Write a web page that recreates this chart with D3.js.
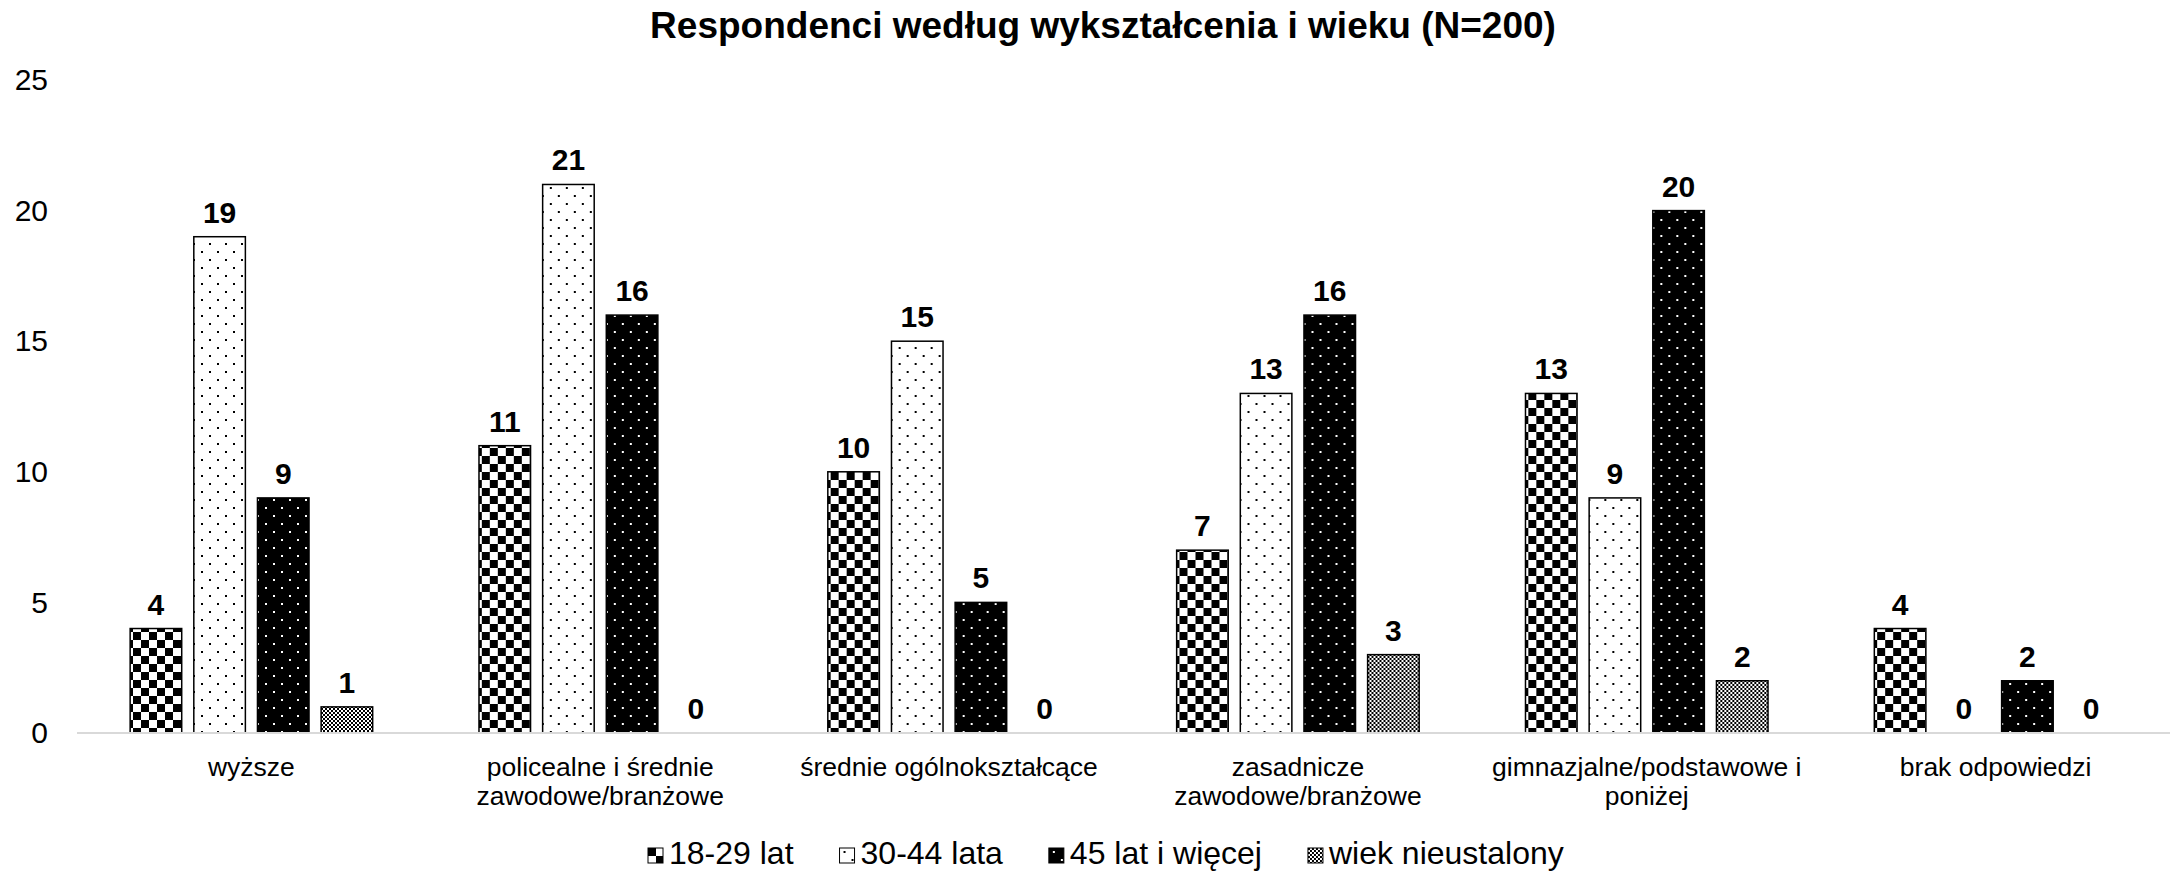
<!DOCTYPE html>
<html>
<head>
<meta charset="utf-8">
<script src="https://d3js.org/d3.v7.min.js"></script>
<style>
  html, body { margin: 0; padding: 0; background: #fff; }
  svg { display: block; font-family: "Liberation Sans", Arial, sans-serif; }
</style>
</head>
<body>
<svg id="chart" width="2176" height="873"></svg>
<script>
const title = "Respondenci według wykształcenia i wieku (N=200)";
const categories = [
  "wyższe",
  "policealne i średnie zawodowe/branżowe",
  "średnie ogólnokształcące",
  "zasadnicze zawodowe/branżowe",
  "gimnazjalne/podstawowe i poniżej",
  "brak odpowiedzi"
];
const seriesNames = ["18-29 lat", "30-44 lata", "45 lat i więcej", "wiek nieustalony"];
const age18_29 = [4, 11, 10, 7, 13, 4];
const age30_44 = [19, 21, 15, 13, 9, 0];
const age45plus = [9, 16, 5, 16, 20, 2];
const ageUnknown = [1, 0, 0, 3, 2, 0];
const yTicks = [0, 5, 10, 15, 20, 25];

const seriesValues = [age18_29, age30_44, age45plus, ageUnknown];
const patternIds = ["pChecker", "pDotsWhite", "pDotsBlack", "pFine"];

const svg = d3.select("#chart");
const defs = svg.append("defs");

// Patterns
const pc = defs.append("pattern").attr("id", "pChecker").attr("patternUnits", "userSpaceOnUse").attr("width", 16).attr("height", 16);
pc.append("rect").attr("width", 16).attr("height", 16).attr("fill", "#fff");
pc.append("rect").attr("x", 0).attr("y", 0).attr("width", 8).attr("height", 8).attr("fill", "#000");
pc.append("rect").attr("x", 8).attr("y", 8).attr("width", 8).attr("height", 8).attr("fill", "#000");

const pw = defs.append("pattern").attr("id", "pDotsWhite").attr("patternUnits", "userSpaceOnUse").attr("width", 16).attr("height", 16);
pw.append("rect").attr("width", 16).attr("height", 16).attr("fill", "#fff");
pw.append("rect").attr("x", 4).attr("y", 3).attr("width", 2).attr("height", 2).attr("fill", "#000");
pw.append("rect").attr("x", 12).attr("y", 11).attr("width", 2).attr("height", 2).attr("fill", "#000");

const pb = defs.append("pattern").attr("id", "pDotsBlack").attr("patternUnits", "userSpaceOnUse").attr("width", 16).attr("height", 16);
pb.append("rect").attr("width", 16).attr("height", 16).attr("fill", "#000");
pb.append("rect").attr("x", 4).attr("y", 3).attr("width", 2).attr("height", 2).attr("fill", "#fff");
pb.append("rect").attr("x", 12).attr("y", 11).attr("width", 2).attr("height", 2).attr("fill", "#fff");

const pf = defs.append("pattern").attr("id", "pFine").attr("patternUnits", "userSpaceOnUse").attr("width", 4).attr("height", 4);
pf.append("rect").attr("width", 4).attr("height", 4).attr("fill", "#fff");
pf.append("rect").attr("x", 0).attr("y", 0).attr("width", 2).attr("height", 2).attr("fill", "#000");
pf.append("rect").attr("x", 2).attr("y", 2).attr("width", 2).attr("height", 2).attr("fill", "#000");

// Scales
const plotLeft = 77, plotRight = 2170, plotTop = 80, plotBottom = 733;
const x0 = d3.scaleBand().domain(categories).range([plotLeft, plotRight]).padding(0);
const x1 = d3.scaleBand().domain(seriesNames).range([0, x0.bandwidth()]).paddingInner(0.19).paddingOuter(0.835);
const y = d3.scaleLinear().domain([0, 25]).range([plotBottom, plotTop]);

// Title
svg.append("text")
  .attr("x", 1103).attr("y", 38)
  .attr("text-anchor", "middle")
  .attr("font-size", 37).attr("font-weight", "bold").attr("fill", "#000")
  .text(title);

// Y axis
const yAxis = d3.axisLeft(y).tickValues(yTicks).tickSize(0).tickPadding(29).tickFormat(d3.format("d"));
const gy = svg.append("g").attr("transform", `translate(${plotLeft},0)`).call(yAxis);
gy.select(".domain").remove();
gy.selectAll("text").attr("font-size", 30).attr("font-family", '"Liberation Sans", Arial, sans-serif').attr("fill", "#000");

// Bars
const groups = svg.append("g").selectAll("g.cat")
  .data(categories)
  .join("g")
  .attr("class", "cat")
  .attr("transform", d => `translate(${x0(d)},0)`);

groups.each(function(cat, ci) {
  const g = d3.select(this);
  const rows = seriesNames.map((s, si) => ({ s, si, v: seriesValues[si][ci] }));
  g.selectAll("rect.bar")
    .data(rows.filter(r => r.v > 0))
    .join("rect")
    .attr("class", "bar")
    .attr("x", r => x1(r.s))
    .attr("y", r => y(r.v))
    .attr("width", x1.bandwidth())
    .attr("height", r => y(0) - y(r.v))
    .attr("fill", r => `url(#${patternIds[r.si]})`)
    .attr("stroke", "#000")
    .attr("stroke-width", 1.5);
  g.selectAll("text.lbl")
    .data(rows)
    .join("text")
    .attr("class", "lbl")
    .attr("x", r => x1(r.s) + x1.bandwidth() / 2)
    .attr("y", r => y(r.v) - 14)
    .attr("text-anchor", "middle")
    .attr("font-size", 30).attr("font-weight", "bold").attr("fill", "#000")
    .text(r => r.v);
});

// Baseline
svg.append("line")
  .attr("x1", plotLeft).attr("x2", plotRight)
  .attr("y1", y(0)).attr("y2", y(0))
  .attr("stroke", "#d9d9d9").attr("stroke-width", 2);

// Category labels with wrapping
const catG = svg.append("g");
categories.forEach(cat => {
  const cx = x0(cat) + x0.bandwidth() / 2;
  const t = catG.append("text")
    .attr("x", cx)
    .attr("y", 776)
    .attr("text-anchor", "middle")
    .attr("font-size", 26.5).attr("fill", "#000");
  const words = cat.split(" ");
  let line = [];
  let tspan = t.append("tspan").attr("x", cx).attr("dy", 0);
  words.forEach(w => {
    line.push(w);
    tspan.text(line.join(" "));
    if (tspan.node().getComputedTextLength() > 340 && line.length > 1) {
      line.pop();
      tspan.text(line.join(" "));
      line = [w];
      tspan = t.append("tspan").attr("x", cx).attr("dy", 29).text(w);
    }
  });
});

// Legend
const legend = svg.append("g");
let lx = 648;
seriesNames.forEach((s, si) => {
  const sym = legend.append("g").attr("transform", `translate(${lx},848)`);
  sym.append("rect").attr("width", 15).attr("height", 15)
    .attr("fill", `url(#${patternIds[si]})`)
    .attr("stroke", "#000").attr("stroke-width", 1);
  const t = legend.append("text")
    .attr("x", lx + 21).attr("y", 864)
    .attr("font-size", 32).attr("fill", "#000")
    .text(s);
  lx = lx + 21 + t.node().getComputedTextLength() + 46;
});
</script>
</body>
</html>
